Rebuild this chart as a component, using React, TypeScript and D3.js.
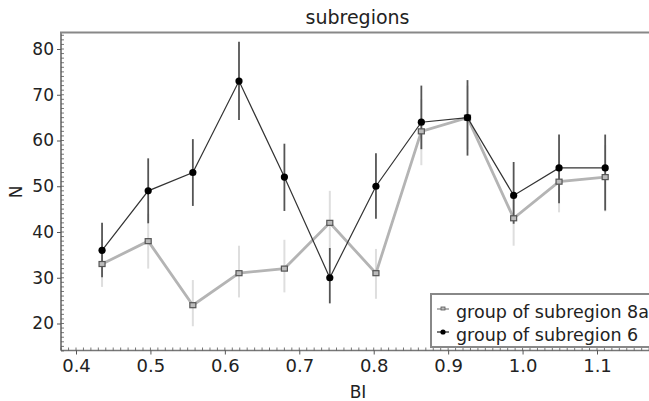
import React, { useEffect, useRef } from "react";
import * as d3 from "d3";

// BI positions shared by both groups
const bi = [0.435, 0.497, 0.557, 0.619, 0.68, 0.741, 0.803, 0.864, 0.926, 0.988, 1.049, 1.111];

// group of subregion 8a
const n8a = [33, 38, 24, 31, 32, 42, 31, 62, 65, 43, 51, 52];
const lo8a = [28, 32, 19.4, 25.7, 26.8, 36, 25.4, 54.6, 58, 37, 44.3, 44.5];
const hi8a = [38.5, 44, 29.5, 37, 38.3, 49, 36.3, 69, 72, 49, 58, 59];

// group of subregion 6
const n6 = [36, 49, 53, 73, 52, 30, 50, 64, 65, 48, 54, 54];
const lo6 = [30.1, 41.9, 45.7, 64.5, 44.6, 24.4, 42.9, 58.1, 56.7, 41.8, 46.3, 44.7];
const hi6 = [42, 56.1, 60.3, 81.6, 59.3, 36.5, 57.2, 72, 73.2, 55.3, 61.3, 61.3];

const xTicks = [0.4, 0.5, 0.6, 0.7, 0.8, 0.9, 1.0, 1.1];
const yTicks = [20, 30, 40, 50, 60, 70, 80];
const legendLabels = ["group of subregion 8a", "group of subregion 6"];

export default function App() {
  const ref = useRef<SVGSVGElement>(null);

  useEffect(() => {
    const svg = d3.select(ref.current);
    svg.selectAll("*").remove();

    const left = 61, top = 32.5, bottom = 350.5, right = 700;
    const x = d3.scaleLinear().domain([0.4, 1.1]).range([76, 597]);
    const y = d3.scaleLinear().domain([20, 80]).range([323.5, 49]);
    const font = "DejaVu Sans, Verdana, sans-serif";

    svg.append("text").attr("x", 357.5).attr("y", 24).attr("text-anchor", "middle")
      .style("font-family", font).style("font-size", "19px").attr("fill", "#222").text("subregions");

    // frame
    svg.append("path")
      .attr("d", `M${left},${bottom}V${top}H${right}`)
      .attr("fill", "none").attr("stroke", "#888").attr("stroke-width", 2);
    svg.append("line").attr("x1", left).attr("x2", right).attr("y1", bottom).attr("y2", bottom)
      .attr("stroke", "#777").attr("stroke-width", 1.5);

    // minor ticks
    const g = svg.append("g");
    g.selectAll(".ym").data(d3.range(14, 84, 1)).enter().append("line")
      .attr("x1", left).attr("x2", left + 3).attr("y1", d => y(d)).attr("y2", d => y(d))
      .attr("stroke", "#555").attr("stroke-width", 0.8);
    g.selectAll(".xm").data(d3.range(0.38, 1.18, 0.01)).enter().append("line")
      .attr("x1", d => x(d)).attr("x2", d => x(d)).attr("y1", bottom).attr("y2", bottom - 3)
      .attr("stroke", "#555").attr("stroke-width", 0.8);

    // y axis
    const ya = svg.append("g").attr("transform", `translate(${left},0)`)
      .call(d3.axisLeft(y).tickValues(yTicks).tickSize(4).tickPadding(3).tickFormat(d3.format("d")));
    ya.select(".domain").remove();
    ya.selectAll("line").attr("stroke", "#555");
    ya.selectAll("text").style("font-family", font).style("font-size", "17px").attr("fill", "#222");

    // x axis
    const xa = svg.append("g").attr("transform", `translate(0,${bottom})`)
      .call(d3.axisBottom(x).tickValues(xTicks).tickSize(4).tickPadding(5).tickFormat(d3.format(".1f")));
    xa.select(".domain").remove();
    xa.selectAll("line").attr("stroke", "#555");
    xa.selectAll("text").style("font-family", font).style("font-size", "18px").attr("fill", "#222");

    svg.append("text").attr("x", 358).attr("y", 398).attr("text-anchor", "middle")
      .style("font-family", font).style("font-size", "17px").attr("fill", "#222").text("BI");
    svg.append("text").attr("transform", "translate(22,192) rotate(-90)").attr("text-anchor", "middle")
      .style("font-family", font).style("font-size", "17px").attr("fill", "#222").text("N");

    const line = d3.line<number>().x((_, i) => x(bi[i])).y(d => y(d));

    // gray series
    svg.selectAll(".e8").data(n8a).enter().append("line")
      .attr("x1", (_, i) => x(bi[i])).attr("x2", (_, i) => x(bi[i]))
      .attr("y1", (_, i) => y(lo8a[i])).attr("y2", (_, i) => y(hi8a[i]))
      .attr("stroke", "#dedede").attr("stroke-width", 2);
    svg.append("path").datum(n8a).attr("d", line).attr("fill", "none")
      .attr("stroke", "#b4b4b4").attr("stroke-width", 2.8);

    // black series
    svg.selectAll(".e6").data(n6).enter().append("line")
      .attr("x1", (_, i) => x(bi[i])).attr("x2", (_, i) => x(bi[i]))
      .attr("y1", (_, i) => y(lo6[i])).attr("y2", (_, i) => y(hi6[i]))
      .attr("stroke", "#555").attr("stroke-width", 1.8);
    svg.append("path").datum(n6).attr("d", line).attr("fill", "none")
      .attr("stroke", "#333").attr("stroke-width", 1.2);

    svg.selectAll(".m8").data(n8a).enter().append("rect")
      .attr("x", (_, i) => x(bi[i]) - 3).attr("y", d => y(d) - 2.5).attr("width", 6).attr("height", 5)
      .attr("fill", "#bbb").attr("stroke", "#555").attr("stroke-width", 1.2);
    svg.selectAll(".m6").data(n6).enter().append("circle")
      .attr("cx", (_, i) => x(bi[i])).attr("cy", d => y(d)).attr("r", 3.6).attr("fill", "#000");

    // legend
    const lg = svg.append("g").attr("transform", "translate(431,294)");
    lg.append("rect").attr("width", 240).attr("height", 53).attr("fill", "#fff")
      .attr("stroke", "#888").attr("stroke-width", 2);
    legendLabels.forEach((t, i) => {
      const yy = 15 + i * 23;
      lg.append("line").attr("x1", 6).attr("x2", 18).attr("y1", yy).attr("y2", yy)
        .attr("stroke", i === 0 ? "#b4b4b4" : "#333").attr("stroke-width", i === 0 ? 2 : 1.3);
      if (i === 0) lg.append("rect").attr("x", 10).attr("y", yy - 2).attr("width", 4).attr("height", 3)
        .attr("fill", "#bbb").attr("stroke", "#555").attr("stroke-width", 0.8);
      else lg.append("circle").attr("cx", 12).attr("cy", yy).attr("r", 2.6).attr("fill", "#000");
      lg.append("text").attr("x", 25).attr("y", yy + 9).style("font-family", font).style("font-size", "17.5px")
        .attr("fill", "#222").text(t);
    });
  }, []);

  return <svg ref={ref} width={649} height={401} style={{ position: "absolute", left: 0, top: 0, background: "#fff" }} />;
}
